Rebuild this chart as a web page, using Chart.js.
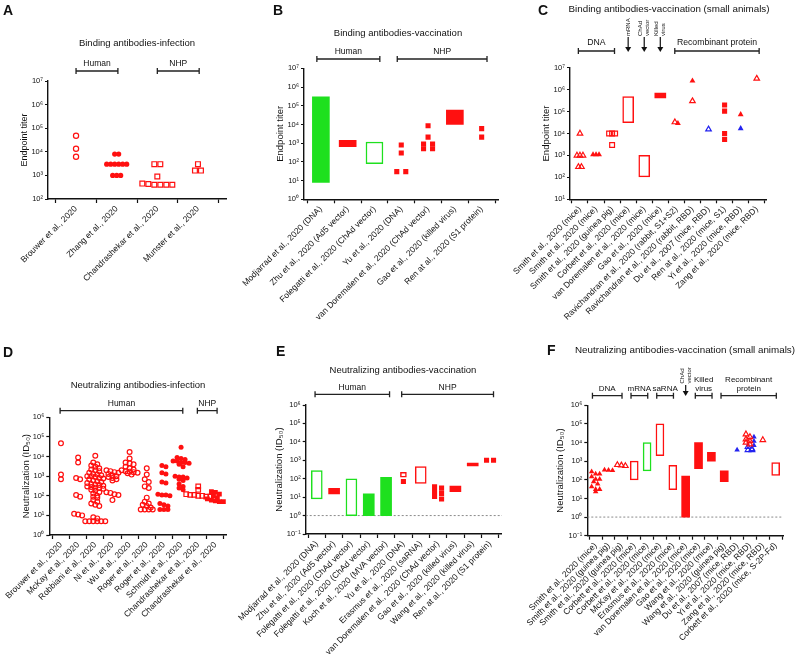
<!DOCTYPE html>
<html><head><meta charset="utf-8">
<script src="https://cdn.jsdelivr.net/npm/chart.js@4.4.1/dist/chart.umd.min.js"></script>
<style>
html,body{margin:0;padding:0;background:#fff;}
#wrap{position:relative;width:796px;height:661px;overflow:hidden;background:#fff;}
#wrap canvas{position:absolute;left:0;top:0;pointer-events:none;}
</style></head><body>
<div id="wrap">
<canvas id="cA" width="796" height="661"></canvas>
<canvas id="cB" width="796" height="661"></canvas>
<canvas id="cC" width="796" height="661"></canvas>
<canvas id="cD" width="796" height="661"></canvas>
<canvas id="cE" width="796" height="661"></canvas>
<canvas id="cF" width="796" height="661"></canvas>
</div>
<script>
// ================= DATA =================
// Panel A
const aCategories = ['Brouwer et al., 2020','Zhang et al., 2020','Chandrashekar et al., 2020','Munster et al., 2020'];
const aYTicks = [1e2,1e3,1e4,1e5,1e6,1e7];
const aOpenCircles = [[0,48000],[0,13500],[0,6200]];
const aFilledCircles = [[1,8000],[1,8000],[1,3000],[1,3000],[1,3000],[1,3000],[1,3000],[1,3000],[1,1000],[1,1000],[1,1000]];
const aOpenSquares = [[2,3000],[2,3000],[2,900],[2,400],[2,430],[2,400],[2,450],[2,400],[2,400],[3,3000],[3,1600],[3,1600]];
const aGroups = [[['Human'],0,1],[['NHP'],2,3]];

// Panel B
const bCategories = ['Modjarrad et al., 2020 (DNA)','Zhu et al., 2020 (Ad5 vector)','Folegatti et al., 2020 (ChAd vector)','Yu et al., 2020 (DNA)','van Doremalen et al., 2020 (ChAd vector)','Gao et al., 2020 (killed virus)','Ren at al., 2020 (S1 protein)'];
const bYTicks = [1e0,1e1,1e2,1e3,1e4,1e5,1e6,1e7];
const bGreenFilledRanges = [[0,8,300000]];
const bRedFilledRanges = [[1,650,1400],[5,10000,58000]];
const bGreenOpenRanges = [[2,80,1150]];
const bRedFilledSquares = [[3,800],[3,300],[3,30],[3,30],[4,8500],[4,2100],[4,900],[4,900],[4,500],[4,500],[6,6000],[6,2100]];
const bGroups = [[['Human'],0,2],[['NHP'],3,6]];

// Panel C
const cCategories = ['Smith et al., 2020 (mice)','Smith et al., 2020 (mice)','Smith et al., 2020 (guinea pig)','Corbett et al., 2020 (mice)','van Doremalen et al., 2020 (mice)','Gao et al., 2020 (mice)','Ravichandran et al., 2020 (rabbit, S1+S2)','Ravichandran et al., 2020 (rabbit, RBD)','Du et al., 2007 (mice, RBD)','Ren at al., 2020 (mice, S1)','Yi et al., 2020 (mice, RBD)','Zang et al., 2020 (mice, RBD)'];
const cYTicks = [1e1,1e2,1e3,1e4,1e5,1e6,1e7];
const cRedOpenRanges = [[3,31000,480000],[4,105,1000]];
const cRedFilledRanges = [[5,420000,700000]];
const cRedOpenTriangles = [[0,10000],[0,1000],[0,1000],[0,1000],[0,300],[0,300],[6,33000],[7,300000],[11,3200000]];
const cRedFilledTriangles = [[1,1100],[1,1100],[1,1100],[6,29000],[7,2500000],[10,74000]];
const cRedOpenSquares = [[2,10000],[2,10000],[2,10000],[2,3000]];
const cRedFilledSquares = [[9,200000],[9,105000],[9,10000],[9,5400]];
const cBlueOpenTriangles = [[8,15500]];
const cBlueFilledTriangles = [[10,17000]];
const cGroups = [[['DNA'],0,2],[['Recombinant protein'],6,11]];
const cArrows = [[['mRNA'],3],[['ChAd','vector'],4],[['Killed','virus'],5]];

// Panel D
const dCategories = ['Brouwer et al., 2020','McKay et al., 2020','Robbiani et al., 2020','Ni et al., 2020','Wu et al., 2020','Roger et al., 2020','Roger et al., 2020','Schmidt et al., 2020','Chandrashekar et al., 2020','Chandrashekar et al., 2020'];
const dYTicks = [1e0,1e1,1e2,1e3,1e4,1e5,1e6];
const dBrouwer = [47000,700,1200];
const dMcKay = [9000,5000,800,700,110,90,12,11,10];
const dRobbiani = [11000,5000,4000,3500,3000,2500,2200,2000,1800,1500,1300,1200,1100,1000,1000,900,800,750,700,600,550,500,450,400,380,350,320,300,280,260,250,230,200,180,150,130,100,90,80,60,50,40,35,30,8,7,5,5,5,5,5,5];
const dNi = [2000,1800,1600,1500,1300,1100,1000,900,800,700,600,150,140,120,110,60];
const dWu = [17000,8000,5000,4500,4000,3000,2500,2200,2000,1800,1700,1600,1500,1400,1200];
const dRogerOpen = [2500,1200,700,500,300,250,80,50,40,35,30,25,20,20,20,20];
const dRogerFilled = [3500,3000,1500,1300,500,450,120,110,110,100,40,35,30,20,20,20];
const dSchmidt = [30000,9000,8000,7000,6000,6000,5000,5000,4500,4000,3000,1000,900,900,800,700,600,400,300,250,200];
const dChandraOpen = [300,200,120,110,110,100,100,90,90];
const dChandraFilled = [160,150,120,100,80,70,60,55,50,50];
const dGroups = [[['Human'],0,7],[['NHP'],8,9]];

// Panel E
const eCategories = ['Modjarrad et al., 2020 (DNA)','Zhu et al., 2020 (Ad5 vector)','Folegatti et al., 2020 (ChAd vector)','Folegatti et al., 2020 (ChAd vector)','Koch et al., 2020 (MVA vector)','Yu et al., 2020 (DNA)','Erasmus et al., 2020 (saRNA)','van Doremalen et al., 2020 (ChAd vector)','Gao et al., 2020 (killed virus)','Wang et al., 2020 (killed virus)','Ren at al., 2020 (S1 protein)'];
const eYTicks = [1e-1,1e0,1e1,1e2,1e3,1e4,1e5,1e6];
const eGreenOpenRanges = [[0,8,280],[2,1,100]];
const eGreenFilledRanges = [[3,1,15],[4,1,120]];
const eRedFilledRanges = [[1,15,30],[8,20,40],[9,500,700]];
const eRedOpenRanges = [[6,55,450]];
const eRedOpenNarrowRanges = [[5,120,220]];
const eRedFilledSquares = [[5,70],[7,37],[7,31],[7,20],[7,16],[7,11],[7,8],[10,1000],[10,1000]];
const eGroups = [[['Human'],0,4],[['NHP'],5,10]];

// Panel F
const fCategories = ['Smith et al., 2020 (mice)','Smith et al., 2020 (guinea pig)','Smith et al., 2020 (guinea pig)','Corbett et al., 2020 (mice)','Corbett et al., 2020 (mice)','McKay et al., 2020 (mice)','Erasmus et al., 2020 (mice)','van Doremalen et al., 2020 (mice)','Gao et al., 2020 (mice)','Wang et al., 2020 (mice)','Wang et al., 2020 (guinea pig)','Du et al., 2007 (mice, RBD)','Yi et al., 2020 (mice, RBD)','Zang et al., 2020 (mice, RBD)','Corbett et al., 2020 (mice, S-2P-Fd)'];
const fYTicks = [1e-1,1e0,1e1,1e2,1e3,1e4,1e5,1e6];
const fRedOpenRanges = [[3,100,1000],[5,2000,100000],[6,30,600],[14,170,850]];
const fGreenOpenRanges = [[4,300,10000]];
const fRedFilledRanges = [[7,1,160],[8,400,10000],[9,1000,3000],[10,80,300]];
const fRedFilledTriangles = [[0,275],[0,205],[0,205],[0,148],[0,107],[0,107],[0,80],[0,60],[0,43],[0,31],[0,31],[0,23],[1,340],[1,330],[1,320]];
const fRedOpenTriangles = [[2,630],[2,600],[2,560],[12,28000],[12,20000],[12,15000],[12,12000],[12,10000],[12,8000],[13,13800]];
const fBlueFilledTriangles = [[11,4000],[12,20000],[12,12000],[12,7000]];
const fBlueOpenTriangles = [[12,6000],[12,4500],[12,4000],[12,4000]];
const fGroups = [[['DNA'],0,2],[['mRNA'],3,4],[['saRNA'],5,6],[['Killed','virus'],8,9],[['Recombinant','protein'],10,14]];
const fArrows = [[['ChAd','vector'],7]];

// ================= STYLE / RENDER =================
const FONT = "'Liberation Sans', Arial, Helvetica, sans-serif";
Chart.defaults.font.family = FONT;
Chart.defaults.color = '#111';
const RED = '#ff1010', GREEN = '#1ee01e', BLUE = '#2323f0';
const SUP = {'-':'\u207B','0':'\u2070','1':'\u00B9','2':'\u00B2','3':'\u00B3','4':'\u2074','5':'\u2075','6':'\u2076','7':'\u2077','8':'\u2078','9':'\u2079'};
function tickLabel(v){
  const e = String(Math.round(Math.log10(v)));
  return '10' + e.split('').map(c=>SUP[c]).join('');
}

const annot = {
  id:'annot',
  afterDraw(chart, args, o){
    const ctx = chart.ctx, xs = chart.scales.x;
    ctx.save();
    ctx.fillStyle = '#111'; ctx.strokeStyle = '#222';
    ctx.font = 'bold 14px ' + FONT; ctx.textAlign = 'left'; ctx.textBaseline = 'top';
    ctx.fillText(o.letter, o.letterX, o.letterY);
    ctx.font = o.titleSize + 'px ' + FONT; ctx.textAlign = 'center'; ctx.textBaseline = 'middle';
    ctx.fillText(o.title, o.titleX, o.titleY);
    ctx.font = o.groupSize + 'px ' + FONT;
    ctx.lineWidth = 1.3;
    (o.groups||[]).forEach(g => {
      const x1 = xs.getPixelForValue(g[1] + o.pad[0]);
      const x2 = xs.getPixelForValue(g[2] + o.pad[1]);
      const y = o.bracketY;
      ctx.beginPath();
      ctx.moveTo(x1, y); ctx.lineTo(x2, y);
      ctx.moveTo(x1, y-3); ctx.lineTo(x1, y+3);
      ctx.moveTo(x2, y-3); ctx.lineTo(x2, y+3);
      ctx.stroke();
      const n = g[0].length;
      g[0].forEach((t,k) => ctx.fillText(t, (x1+x2)/2, o.labelY - (n-1-k)*o.lineH));
    });
    (o.arrows||[]).forEach(a => {
      const x = xs.getPixelForValue(a[1]);
      const n = a[0].length;
      ctx.font = o.arrowSize + 'px ' + FONT;
      a[0].forEach((t,k) => {
        ctx.save();
        ctx.translate(x + (k-(n-1)/2)*o.arrowLineH, o.arrowTextBottom);
        ctx.rotate(-Math.PI/2);
        ctx.textAlign = 'left'; ctx.textBaseline = 'middle';
        ctx.fillText(t, 0, 0);
        ctx.restore();
      });
      ctx.beginPath(); ctx.moveTo(x, o.arrowTop); ctx.lineTo(x, o.arrowBottom-4); ctx.stroke();
      ctx.beginPath(); ctx.moveTo(x-3, o.arrowBottom-5); ctx.lineTo(x+3, o.arrowBottom-5); ctx.lineTo(x, o.arrowBottom); ctx.closePath(); ctx.fill();
    });
    ctx.restore();
  }
};

function buildPanel(p){
  const pxPerUnit = (p.R - p.L) / (p.xMax - p.xMin);
  const pxPerDec = (p.B - p.T) / (Math.log10(p.yMax) - Math.log10(p.yMin));
  const all = [];
  p.points.forEach((s, si) => s.data.forEach(d => all.push({cat:d[0], val:d[1], si, gap:s.gap})));
  const byCat = new Map();
  all.forEach(q => { if(!byCat.has(q.cat)) byCat.set(q.cat, []); byCat.get(q.cat).push(q); });
  const tol = p.rowPx / pxPerDec;
  byCat.forEach(list => {
    list.sort((a,b) => (b.val - a.val) || (a.si - b.si));
    const rows = [];
    list.forEach(q => {
      const r = rows[rows.length-1];
      if (r && Math.log10(r[0].val) - Math.log10(q.val) < tol) r.push(q); else rows.push([q]);
    });
    rows.forEach(r => {
      const g = Math.max(...r.map(q=>q.gap)) / pxPerUnit;
      r.forEach((q,k) => q.x = q.cat + (k - (r.length-1)/2) * g);
    });
  });
  const datasets = [];
  p.points.forEach((s, si) => {
    datasets.push({
      type:'scatter', order:0,
      data: all.filter(q=>q.si===si).map(q=>({x:q.x, y:q.val})),
      pointStyle:s.shape, pointRadius:s.r, pointHoverRadius:s.r,
      backgroundColor: s.filled ? s.color : 'rgba(0,0,0,0)',
      borderColor:s.color, borderWidth: s.filled ? 0 : 1.2, showLine:false
    });
  });
  p.bars.forEach(s => {
    datasets.push({
      type:'bar', order:1, grouped:false,
      data: s.data.map(d => ({x:d[0], y:[d[1], d[2]]})),
      backgroundColor: s.filled ? s.color : '#fff',
      borderColor: s.color, borderWidth: s.filled ? 0 : 1.5, borderSkipped:false,
      barThickness: s.width
    });
  });
  if (p.refLine) {
    datasets.push({type:'line', order:2, data:[{x:p.xMin,y:1},{x:p.xMax,y:1}],
      borderColor:'#8a8a8a', borderWidth:1, borderDash:[2,2], pointRadius:0, fill:false});
  }
  const yTitleSize = p.yTitleSize;
  const padLeft = p.yTitleX - yTitleSize*1.2/2;
  const xH = p.labelH;
  new Chart(document.getElementById(p.id), {
    type:'bar',
    data:{datasets},
    plugins:[annot],
    options:{
      responsive:false, animation:false, events:[],
      layout:{autoPadding:false, padding:{left:padLeft, top:p.T, right:796-p.R, bottom:661-p.B-xH}},
      plugins:{legend:{display:false}, tooltip:{enabled:false}, annot:p.annot},
      scales:{
        x:{type:'linear', min:p.xMin, max:p.xMax, offset:false,
          afterBuildTicks: s => { s.ticks = p.cats.map((c,i)=>({value:i})); },
          afterFit: s => { s.height = xH; s.paddingLeft = 0; s.paddingRight = 0; },
          ticks:{autoSkip:false, minRotation:45, maxRotation:45, padding:1, color:'#111',
            font:{size:p.xFont}, callback: v => p.cats[Math.round(v)] ?? ''},
          grid:{display:true, drawOnChartArea:false, drawTicks:true, tickLength:4, color:'#111', tickWidth:1.2},
          border:{display:true, color:'#111', width:1.4}
        },
        y:{type:'logarithmic', min:p.yMin, max:p.yMax,
          afterBuildTicks: s => { s.ticks = p.yTicks.map(v=>({value:v})); },
          afterFit: s => { s.width = p.L - padLeft; s.paddingTop = 0; s.paddingBottom = 0; },
          ticks:{autoSkip:false, padding:2, color:'#111', font:{size:7.5}, callback: v => tickLabel(v)},
          grid:{display:true, drawOnChartArea:false, drawTicks:true, tickLength:3, color:'#111', tickWidth:1.2},
          border:{display:true, color:'#111', width:1.4},
          title:{display:true, text:p.yTitle, color:'#111', font:{size:yTitleSize}, padding:{top:0,bottom:0}}
        }
      }
    }
  });
}

const toPairs = (arr, cat) => arr.map(v => [cat, v]);

// ---- Panel A
buildPanel({id:'cA', L:48, R:226, T:81, B:199, labelH:135, xMin:-0.69, xMax:3.69, yMin:1e2, yMax:1e7,
  cats:aCategories, yTicks:aYTicks, yTitle:'Endpoint titer', yTitleX:25, yTitleSize:9, xFont:8.5, rowPx:4,
  points:[
    {data:aOpenCircles, shape:'circle', r:2.6, filled:false, color:RED, gap:5},
    {data:aFilledCircles, shape:'circle', r:2.6, filled:true, color:RED, gap:4},
    {data:aOpenSquares, shape:'rect', r:3.4, filled:false, color:RED, gap:6}
  ],
  bars:[],
  annot:{letter:'A', letterX:3, letterY:4, title:'Binding antibodies-infection', titleX:137, titleY:43, titleSize:9.5,
    groups:aGroups, pad:[0,0.03], bracketY:71, labelY:64, lineH:9, groupSize:8.5}
});

// ---- Panel B
buildPanel({id:'cB', L:304, R:498, T:68.3, B:199.3, labelH:135, xMin:-0.63, xMax:6.61, yMin:1, yMax:1e7,
  cats:bCategories, yTicks:bYTicks, yTitle:'Endpoint titer', yTitleX:280, yTitleSize:9.5, xFont:8.5, rowPx:4,
  points:[
    {data:bRedFilledSquares, shape:'rect', r:3.6, filled:true, color:RED, gap:9}
  ],
  bars:[
    {data:bGreenFilledRanges, filled:true, color:GREEN, width:17},
    {data:bRedFilledRanges, filled:true, color:RED, width:17},
    {data:bGreenOpenRanges, filled:false, color:GREEN, width:17}
  ],
  annot:{letter:'B', letterX:273, letterY:4, title:'Binding antibodies-vaccination', titleX:398, titleY:33, titleSize:9.5,
    groups:bGroups, pad:[-0.15,0.2], bracketY:59, labelY:52, lineH:9, groupSize:8.5}
});

// ---- Panel C
buildPanel({id:'cC', L:570, R:766.7, T:67.7, B:199.3, labelH:135, xMin:-0.62, xMax:11.62, yMin:10, yMax:1e7,
  cats:cCategories, yTicks:cYTicks, yTitle:'Endpoint titer', yTitleX:546, yTitleSize:9.5, xFont:8.5, rowPx:4,
  points:[
    {data:cRedOpenTriangles, shape:'triangle', r:3.2, filled:false, color:RED, gap:3},
    {data:cRedFilledTriangles, shape:'triangle', r:3.4, filled:true, color:RED, gap:3},
    {data:cRedOpenSquares, shape:'rect', r:3.4, filled:false, color:RED, gap:3},
    {data:cRedFilledSquares, shape:'rect', r:3.6, filled:true, color:RED, gap:3},
    {data:cBlueOpenTriangles, shape:'triangle', r:3.2, filled:false, color:BLUE, gap:3},
    {data:cBlueFilledTriangles, shape:'triangle', r:3.4, filled:true, color:BLUE, gap:3}
  ],
  bars:[
    {data:cRedOpenRanges, filled:false, color:RED, width:11},
    {data:cRedFilledRanges, filled:true, color:RED, width:11}
  ],
  annot:{letter:'C', letterX:538, letterY:4, title:'Binding antibodies-vaccination (small animals)', titleX:669, titleY:9, titleSize:9.8,
    groups:cGroups, pad:[-0.1,0.15], bracketY:51, labelY:43, lineH:9, groupSize:8.7,
    arrows:cArrows, arrowSize:6, arrowLineH:7, arrowTextBottom:36, arrowTop:37, arrowBottom:52}
});

// ---- Panel D
buildPanel({id:'cD', L:49.3, R:226.7, T:417.3, B:535, labelH:126, xMin:-0.68, xMax:9.66, yMin:1, yMax:1e6,
  cats:dCategories, yTicks:dYTicks, yTitle:'Neutralization (ID\u2085\u2080)', yTitleX:26, yTitleSize:9.5, xFont:8.5, rowPx:3,
  points:[
    {data:[].concat(toPairs(dBrouwer,0),toPairs(dMcKay,1),toPairs(dRobbiani,2),toPairs(dNi,3),toPairs(dWu,4),toPairs(dRogerOpen,5)), shape:'circle', r:2.4, filled:false, color:RED, gap:4},
    {data:[].concat(toPairs(dRogerFilled,6),toPairs(dSchmidt,7)), shape:'circle', r:2.5, filled:true, color:RED, gap:4},
    {data:toPairs(dChandraOpen,8), shape:'rect', r:3.2, filled:false, color:RED, gap:4},
    {data:toPairs(dChandraFilled,9), shape:'rect', r:3.4, filled:true, color:RED, gap:4}
  ],
  bars:[],
  annot:{letter:'D', letterX:3, letterY:346, title:'Neutralizing antibodies-infection', titleX:138, titleY:385, titleSize:9.5,
    groups:dGroups, pad:[-0.05,0.1], bracketY:410.7, labelY:404, lineH:9, groupSize:8.5}
});

// ---- Panel E
buildPanel({id:'cE', L:305.7, R:502, T:405, B:534, labelH:127, xMin:-0.64, xMax:10.69, yMin:0.1, yMax:1e6,
  cats:eCategories, yTicks:eYTicks, yTitle:'Neutralization (ID\u2085\u2080)', yTitleX:279, yTitleSize:9.5, xFont:8.5, rowPx:4, refLine:true,
  points:[
    {data:eRedFilledSquares, shape:'rect', r:3.6, filled:true, color:RED, gap:7}
  ],
  bars:[
    {data:eGreenOpenRanges, filled:false, color:GREEN, width:11},
    {data:eGreenFilledRanges, filled:true, color:GREEN, width:11},
    {data:eRedFilledRanges, filled:true, color:RED, width:11},
    {data:eRedOpenRanges, filled:false, color:RED, width:11},
    {data:eRedOpenNarrowRanges, filled:false, color:RED, width:6}
  ],
  annot:{letter:'E', letterX:276, letterY:345, title:'Neutralizing antibodies-vaccination', titleX:403, titleY:370, titleSize:9.5,
    groups:eGroups, pad:[-0.1,0.2], bracketY:394.3, labelY:387.7, lineH:9, groupSize:8.5}
});

// ---- Panel F
buildPanel({id:'cF', L:587.3, R:783, T:405.3, B:535.7, labelH:125, xMin:-0.65, xMax:14.57, yMin:0.1, yMax:1e6,
  cats:fCategories, yTicks:fYTicks, yTitle:'Neutralization (ID\u2085\u2080)', yTitleX:560, yTitleSize:9.5, xFont:8.5, rowPx:3, refLine:true,
  points:[
    {data:fRedFilledTriangles, shape:'triangle', r:3.2, filled:true, color:RED, gap:4},
    {data:fRedOpenTriangles, shape:'triangle', r:3.2, filled:false, color:RED, gap:4},
    {data:fBlueFilledTriangles, shape:'triangle', r:3.2, filled:true, color:BLUE, gap:4},
    {data:fBlueOpenTriangles, shape:'triangle', r:3.2, filled:false, color:BLUE, gap:4}
  ],
  bars:[
    {data:fRedOpenRanges, filled:false, color:RED, width:8},
    {data:fGreenOpenRanges, filled:false, color:GREEN, width:8},
    {data:fRedFilledRanges, filled:true, color:RED, width:8}
  ],
  annot:{letter:'F', letterX:547, letterY:344, title:'Neutralizing antibodies-vaccination (small animals)', titleX:685, titleY:350, titleSize:9.8,
    groups:fGroups, pad:[-0.25,0.05], bracketY:395.7, labelY:389, lineH:9, groupSize:8,
    arrows:fArrows, arrowSize:6, arrowLineH:7, arrowTextBottom:383.5, arrowTop:385, arrowBottom:396}
});
</script>
</body></html>
